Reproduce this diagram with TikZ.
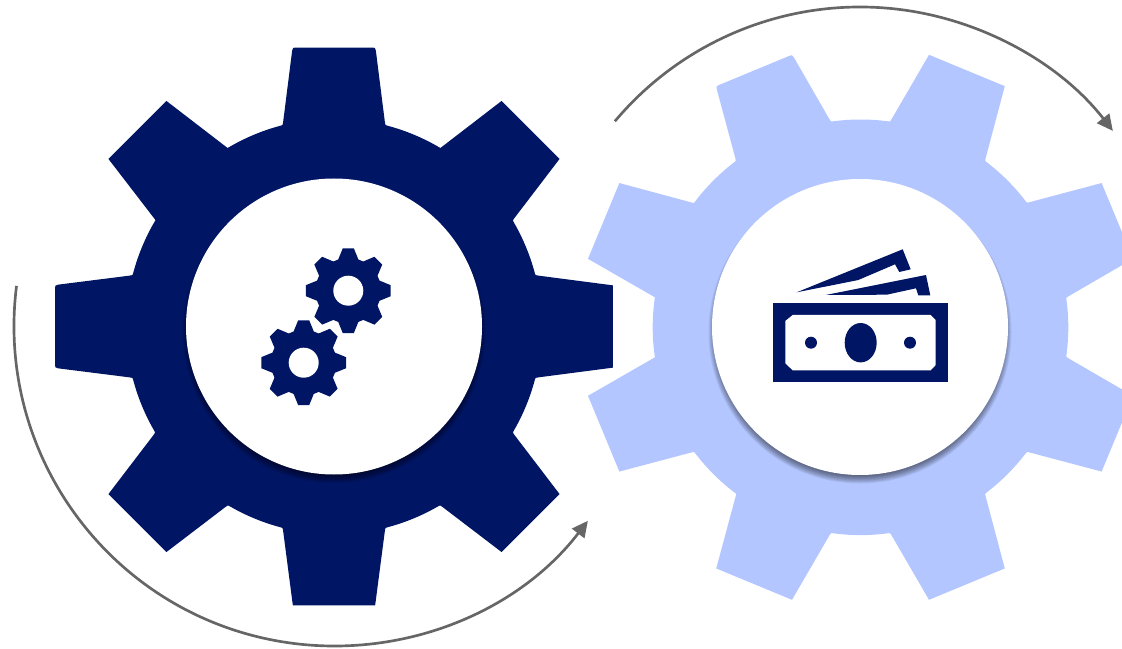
\documentclass[tikz,border=0pt]{standalone}
\usetikzlibrary{arrows.meta}
\definecolor{gdark}{HTML}{001563}
\definecolor{glight}{HTML}{B3C6FF}
\definecolor{arcgray}{HTML}{666666}
\tikzset{
  turnarc/.style={draw=arcgray,line width=2pt,-{Triangle[length=12pt,width=11.5pt]}},
  darkfill/.style={fill=gdark,draw=none},
  lightfill/.style={fill=glight,draw=none},
  holefill/.style={fill=white,draw=none},
}
% #1 fill style, #2 first tooth angle, #3 list angle/tipfillet/lowbasefillet/highbasefillet/tipradius
\newcommand{\biggear}[3]{%
  \fill[#1] (#2-22.5:207.8) \foreach \a/\t/\l/\h/\R in {#3}{
    arc[start angle=\a-22.5,end angle=\a-14.2-\l,radius=207.8]
    .. controls (\a-14.2:207.8) .. (\a-14.2+0.24*\l:207.8+3*\l)
    -- (\a-8.39-0.24*\t:\R-3*\t)
    .. controls (\a-8.39:\R) .. (\a-8.39+0.6*\t:\R-0.4*\t)
    -- (\a+8.39-0.6*\t:\R-0.4*\t)
    .. controls (\a+8.39:\R) .. (\a+8.39+0.24*\t:\R-3*\t)
    -- (\a+14.2-0.24*\h:207.8+3*\h)
    .. controls (\a+14.2:207.8) .. (\a+14.2+\h:207.8)
    arc[start angle=\a+14.2+\h,end angle=\a+22.5,radius=207.8]
  } -- cycle;}
\newcommand{\smallgear}{%
  \fill[darkfill] (-17.9:32.8) \foreach \a in {0,45,...,315}{
    -- (\a-17.9:32.8) -- (\a-7.4:42.8) -- (\a+7.4:42.8) -- (\a+17.9:32.8)
    arc[start angle=\a+17.9,end angle=\a+27.1,radius=32.8]
  } -- cycle;
  \fill[holefill] (0,0) circle[radius=15];}
\newcommand{\softshadow}[1]{%
  \foreach \i in {0,...,9}{
    \fill[black,opacity=#1] (0,-5) circle[radius=151.5-\i*1.0];
  }}
\begin{document}
\begin{tikzpicture}[x=0.75pt,y=0.75pt]
\useasboundingbox (0,-649) rectangle (1122,0);
\clip (0,-649) rectangle (1122,0);
% light gear
\begin{scope}[shift={(860.5,-327.3)}]
  \biggear{lightfill}{22.5}{22.5/0/1/1/281,67.5/0/1/1/281,112.5/1/1/1/281,157.5/0/0/0/281,202.5/0/0/1/281,247.5/0/0/1/281,292.5/0/1/1/281,337.5/0/1/1/281}
\end{scope}
\begin{scope}[shift={(860,-327)}]
  \softshadow{0.07}
  \fill[holefill] (0,0) circle[radius=148];
\end{scope}
% dark gear
\begin{scope}[shift={(334,-326.5)}]
  \biggear{darkfill}{0}{0/0/1/1/282,45/0/1/0/281,90/1/1/1/282,135/0/0/0/281,180/1/1/1/282,225/0/1/1/281,270/0/1/1/282,315/0/1/1/281}
  \softshadow{0.07}
  \fill[holefill] (0,0) circle[radius=148];
\end{scope}
% small gears
\begin{scope}[shift={(348.3,-290.7)}]\smallgear\end{scope}
\begin{scope}[shift={(303.7,-362.7)}]\smallgear\end{scope}
% banknotes
\fill[darkfill] (796.7,-292.3) -- (902.7,-249.3) -- (910.7,-269.3) -- (899.3,-272) -- (895,-264.3) -- (858.3,-280) -- cycle;
\fill[darkfill] (825.7,-295) -- (926,-275) -- (930.3,-295.3) -- (918.3,-295.3) -- (916,-288.3) -- (886.7,-294.7) -- cycle;
\fill[darkfill] (773.3,-303) rectangle (947.7,-382.3);
\fill[holefill] (792.7,-315) -- (930.7,-315) -- (935.7,-320) -- (935.7,-365) -- (930.7,-370.3) -- (792.7,-370.3) -- (785.3,-363.3) -- (785.3,-321) -- cycle;
\fill[darkfill] (811,-342.7) circle[radius=6];
\fill[darkfill] (910,-342.7) circle[radius=6];
\fill[darkfill] (860.7,-342.7) ellipse[x radius=16,y radius=19.7];
% rotation arcs
\draw[turnarc] (172.8:320) ++(334,-326) arc[start angle=172.8,end angle=322.5,radius=320];
\draw[turnarc] (140:320) ++(860,-327) arc[start angle=140,end angle=37.8,radius=320];
\end{tikzpicture}
\end{document}
